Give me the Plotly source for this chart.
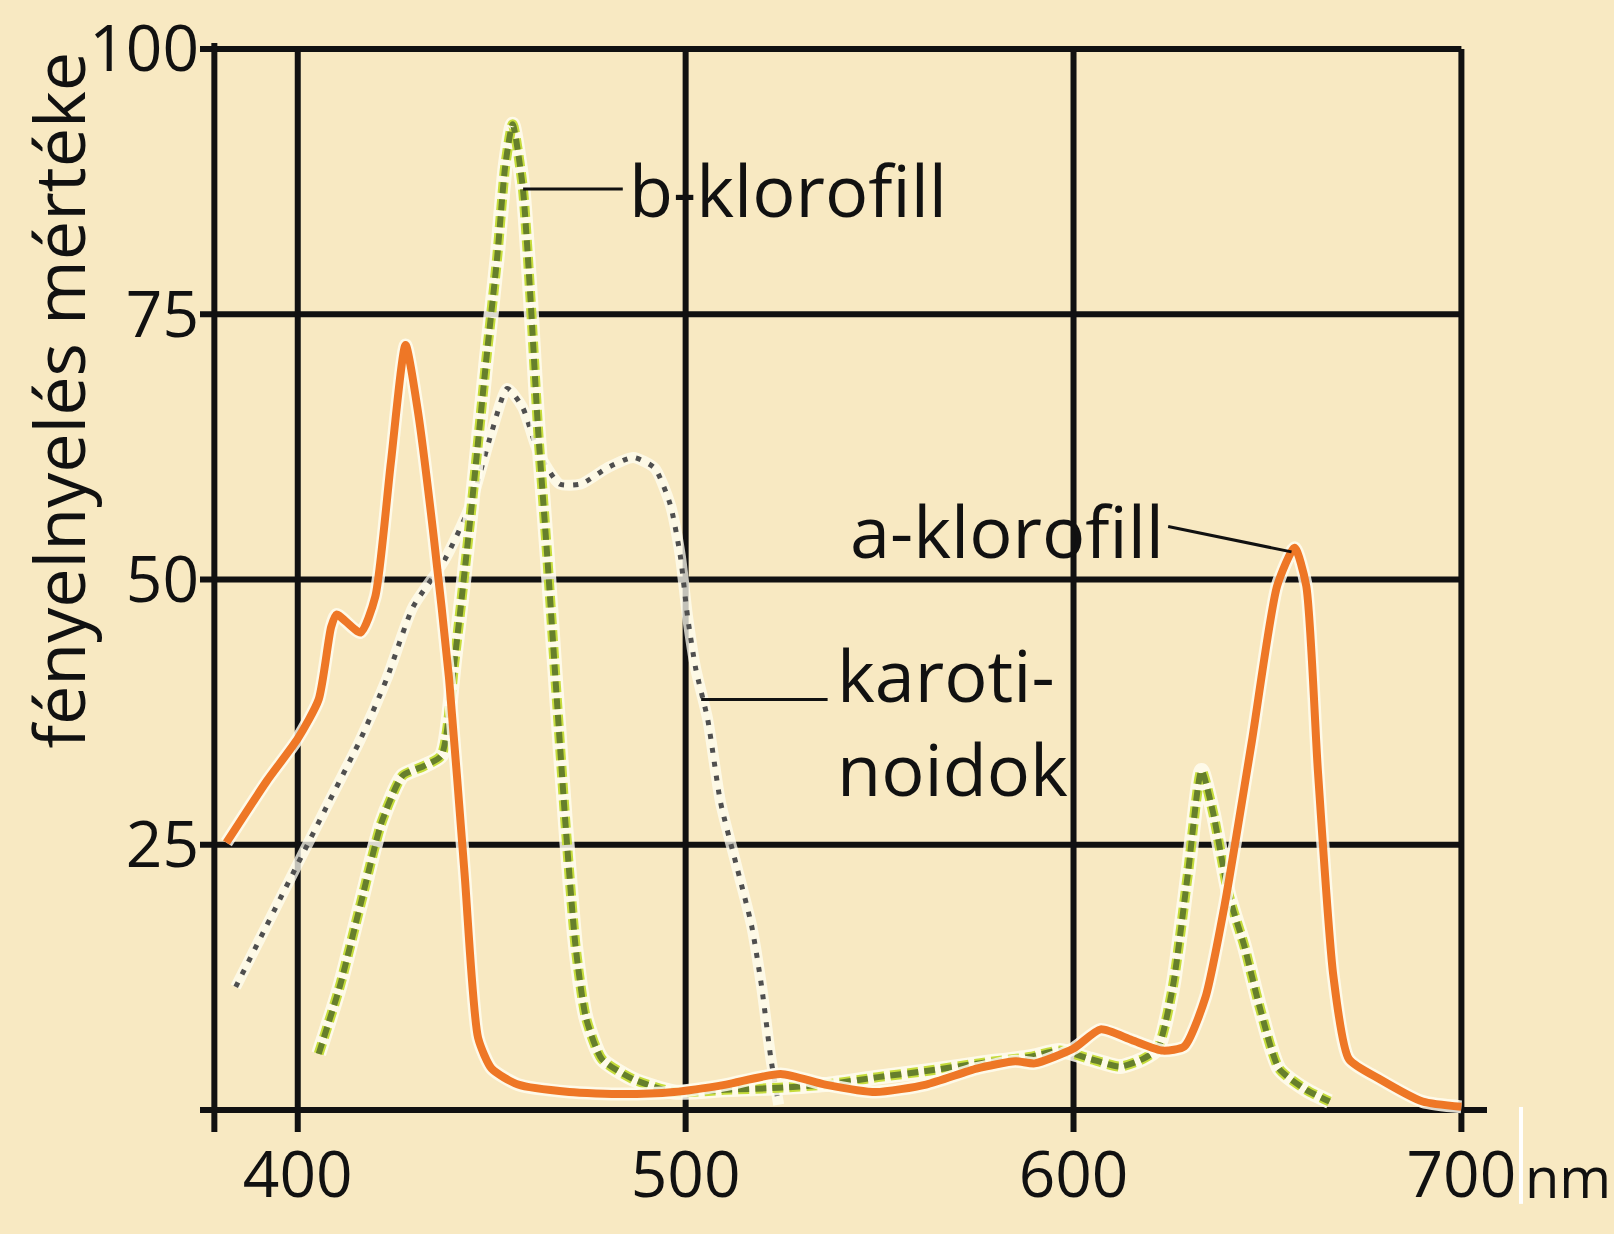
import plotly.graph_objects as go

# ---------------- data ----------------
a_nm = [381.6, 392, 400, 405.4, 408.6, 410, 416.2, 420, 424, 427.8, 431, 435, 439, 443, 446.5,
        450, 456.8, 470, 483.8, 497, 510.4, 524.5, 536, 549, 562, 575, 585, 590, 600, 607, 615,
        623, 628.6, 634, 639, 646, 652.5, 657, 660, 663, 667, 671, 679, 690, 700]
a_val = [25.2, 31, 35, 38.7, 45.5, 46.7, 45.0, 48.4, 61, 72.1, 65.8, 54.2, 40.7, 22.3, 6.8,
         3.9, 2.4, 1.7, 1.5, 1.7, 2.4, 3.4, 2.4, 1.7, 2.4, 3.9, 4.6, 4.4, 5.8, 7.6, 6.6,
         5.6, 6.0, 10.6, 19.4, 34.8, 49.4, 53.0, 49.4, 32, 12.6, 4.8, 2.9, 0.8, 0.3]

b_nm = [405.4, 410.8, 416.2, 421.6, 427, 432.4, 437, 440.5, 444.6, 448.6, 451.4, 453.5, 455.4,
        458, 460, 462, 464.3, 466.8, 469, 471.6, 474.3, 478.4, 486.5, 497, 510, 524, 536, 549.6,
        562.5, 575.6, 588.6, 596.5, 604.4, 612, 617.8, 621.7, 625.6, 629.5, 633, 636, 640, 644,
        648, 653, 660, 666]
b_val = [5.3, 11.6, 19.4, 27.1, 31.5, 32.4, 33.4, 42.6, 56.1, 70.7, 80.3, 89, 92.9,
         87, 76.5, 63.9, 52.3, 38.7, 27.1, 15.5, 8.7, 4.8, 2.9, 1.7, 1.9, 2.1, 2.4, 3.1,
         3.7, 4.4, 5.0, 5.6, 4.8, 4.1, 4.8, 5.8, 11.6, 22.3, 32, 28, 20.3, 15.5,
         9.7, 3.9, 1.9, 0.8]

k_nm = [384, 392, 400, 408, 416, 423, 429.7, 437.8, 444.6, 450, 454, 458, 462, 467.5, 473,
        479.7, 486.5, 492, 496, 498.6, 500.5, 502.6, 505.7, 509, 513, 517, 519.6, 522, 524]
k_val = [11.6, 17.4, 23.2, 29, 34.8, 40.7, 47.4, 51.8, 57.1, 63.9, 68, 66.2, 62, 59, 59,
         60.5, 61.5, 60.5, 57.1, 52.3, 46.5, 41.6, 36.8, 29, 23.2, 17.4, 11.6, 4.8, 0.5]

x_ticks = [400, 500, 600, 700]
x_ticktext = ["400", "500", "600", "700"]
y_ticks = [25, 50, 75, 100]
y_ticktext = ["25", "50", "75", "100"]

y_title = "fényelnyelés mértéke"
label_b = "b-klorofill"
label_a = "a-klorofill"
label_k = "karoti-<br>noidok"
unit = "nm"

# ---------------- style ----------------
BG = "#f8e9c2"
FONT = "Open Sans"
FS_TICK = 64
FS = 72
INK = "#111111"
X_MIN, X_MAX = 374.8, 706.6
Y_MIN, Y_MAX = -2.07, 100.56
Y_AXIS_X = 378.5

fig = go.Figure()

halo = "rgba(255,253,240,0.85)"
# karotinoidok
fig.add_trace(go.Scatter(x=k_nm, y=k_val, mode="lines", line=dict(color="rgba(255,253,242,0.75)", width=11,
                                                                     shape="spline", smoothing=0.6),
                         hoverinfo="skip", showlegend=False))
fig.add_trace(go.Scatter(x=k_nm, y=k_val, mode="lines", name="karotinoidok",
                         line=dict(color="#4f4f4f", width=5, dash="5px,9px", shape="spline", smoothing=0.6),
                         showlegend=False))
# b-klorofill
fig.add_trace(go.Scatter(x=b_nm, y=b_val, mode="lines", line=dict(color=halo, width=15, shape="spline", smoothing=0.6),
                         hoverinfo="skip", showlegend=False))
fig.add_trace(go.Scatter(x=b_nm, y=b_val, mode="lines", line=dict(color="#c6dc3c", width=10, dash="11px,6px",
                                                                     shape="spline", smoothing=0.6),
                         hoverinfo="skip", showlegend=False))
fig.add_trace(go.Scatter(x=b_nm, y=b_val, mode="lines", name="b-klorofill",
                         line=dict(color="#667f2c", width=6, dash="11px,6px", shape="spline", smoothing=0.6),
                         showlegend=False))
# a-klorofill
fig.add_trace(go.Scatter(x=a_nm, y=a_val, mode="lines", line=dict(color=halo, width=13, shape="spline", smoothing=0.6),
                         hoverinfo="skip", showlegend=False))
fig.add_trace(go.Scatter(x=a_nm, y=a_val, mode="lines", name="a-klorofill",
                         line=dict(color="#ee7726", width=8, shape="spline", smoothing=0.6),
                         showlegend=False))

shapes = []
LW = 6
for v in y_ticks:
    shapes.append(dict(type="line", xref="x", yref="y", x0=X_MIN, x1=700, y0=v, y1=v,
                       line=dict(color=INK, width=LW), layer="below"))
for v in x_ticks:
    shapes.append(dict(type="line", xref="x", yref="y", x0=v, x1=v, y0=Y_MIN, y1=100,
                       line=dict(color=INK, width=LW), layer="below"))
# axes
shapes.append(dict(type="line", xref="x", yref="y", x0=Y_AXIS_X, x1=Y_AXIS_X, y0=Y_MIN, y1=Y_MAX,
                   line=dict(color=INK, width=LW), layer="below"))
shapes.append(dict(type="line", xref="x", yref="y", x0=X_MIN, x1=X_MAX, y0=0, y1=0,
                   line=dict(color=INK, width=LW), layer="below"))
# leader lines
shapes.append(dict(type="line", xref="x", yref="y", x0=458.1, x1=483.8, y0=86.8, y1=86.8,
                   line=dict(color=INK, width=3)))
shapes.append(dict(type="line", xref="x", yref="y", x0=504, x1=536.6, y0=38.7, y1=38.7,
                   line=dict(color=INK, width=3)))
shapes.append(dict(type="line", xref="x", yref="y", x0=624.4, x1=656.2, y0=55, y1=52.6,
                   line=dict(color=INK, width=3)))
# white scanner streak near unit
shapes.append(dict(type="line", xref="paper", yref="paper", x0=1.0264, x1=1.0264, y0=0.023, y1=-0.066,
                   line=dict(color="white", width=4)))

annotations = [
    dict(text=label_b, x=485.0, y=86.8, xref="x", yref="y", xanchor="left", yanchor="middle",
         showarrow=False, font=dict(family=FONT, size=FS, color=INK)),
    dict(text=label_a, x=541.8, y=54.7, xref="x", yref="y", xanchor="left", yanchor="middle",
         showarrow=False, font=dict(family=FONT, size=FS, color=INK)),
    dict(text=label_k, x=538.6, y=36.7, xref="x", yref="y", xanchor="left", yanchor="middle", align="left",
         showarrow=False, font=dict(family=FONT, size=FS, color=INK)),
    dict(text=unit, x=1.028, y=-0.04, xref="paper", yref="paper", xanchor="left", yanchor="middle",
         showarrow=False, font=dict(family=FONT, size=56, color=INK)),
    dict(text=y_title, x=-0.11, y=0.672, xref="paper", yref="paper", xanchor="center", yanchor="middle",
         textangle=-90, showarrow=False, font=dict(family=FONT, size=70, color=INK)),
]

fig.update_layout(
    width=1614, height=1234,
    margin=dict(l=200, r=127, t=43, b=102, autoexpand=False),
    paper_bgcolor=BG, plot_bgcolor=BG,
    shapes=shapes, annotations=annotations,
    xaxis=dict(range=[X_MIN, X_MAX], showgrid=False, zeroline=False, showline=False, automargin=False,
               tickvals=x_ticks, ticktext=x_ticktext, ticks="", ticklabelstandoff=0,
               tickfont=dict(family=FONT, size=FS_TICK, color=INK), fixedrange=True),
    yaxis=dict(range=[Y_MIN, Y_MAX], showgrid=False, zeroline=False, showline=False, automargin=False,
               tickvals=y_ticks, ticktext=y_ticktext, ticks="", ticklabelstandoff=0,
               tickfont=dict(family=FONT, size=FS_TICK, color=INK), fixedrange=True),
    showlegend=False,
)

fig.write_html("out.html", config={"displayModeBar": False},
               post_script="document.body.style.margin='0';document.documentElement.style.overflow='hidden';")
